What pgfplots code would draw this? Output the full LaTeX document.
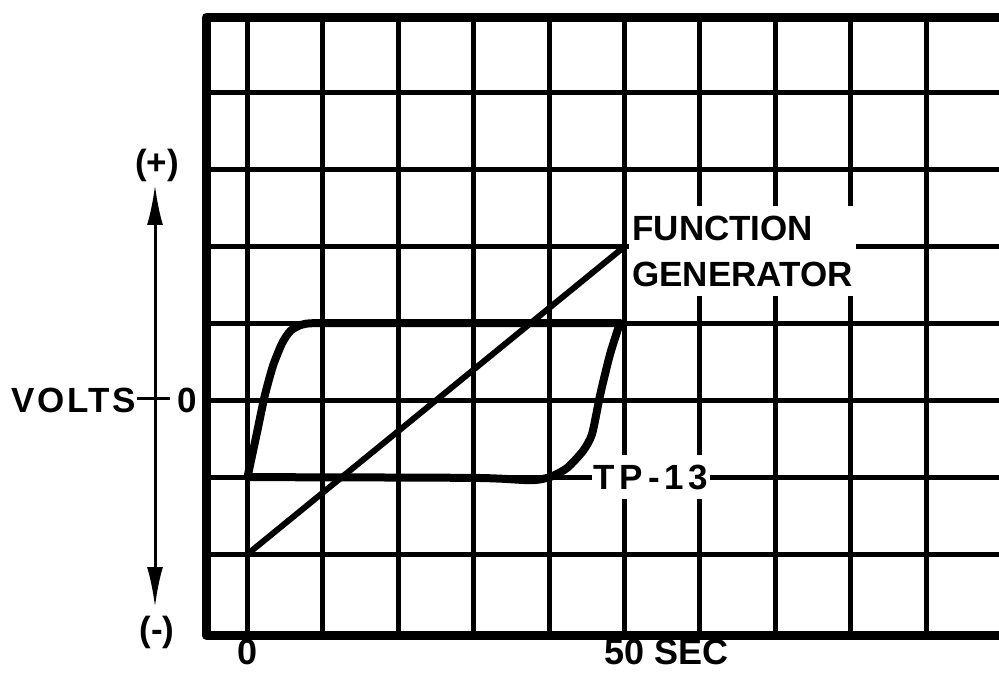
\documentclass[border=0pt]{standalone}
\usepackage{pgfplots}
\pgfplotsset{compat=1.18}
\usepackage{fontspec}
\setmainfont{Liberation Sans}
\newfontfamily\widea[LetterSpace=7]{Liberation Sans}
\newfontfamily\wideb[LetterSpace=14]{Liberation Sans}
\usetikzlibrary{arrows.meta}
\begin{document}
\begin{tikzpicture}[x=0.5pt,y=-0.5pt,font=\fontsize{17.5}{23}\selectfont\bfseries]
\useasboundingbox (0,0) rectangle (999,683);
\begin{axis}[
  at={(103pt,-317.5pt)}, anchor=south west,
  scale only axis, width=401.5pt, height=308.8pt,
  xmin=-5.5, xmax=101, ymin=-3.05, ymax=4.97,
  xtick={0,10,...,90}, ytick={-2,-1,...,4},
  xticklabels={0,,,,,{50\rlap{ SEC}},,,,},
  yticklabels={},
  major tick length=0pt,
  grid=major,
  major grid style={black, line width=2.5pt},
  axis line style={black, line width=4.5pt, line join=round},
  /pgf/number format/assume math mode=true,
  xticklabel style={font=\fontsize{18}{20}\selectfont\bfseries, inner sep=2pt},
  clip=false,
]
% function generator ramp
\addplot[black, line width=3pt, line cap=round] coordinates {(0,-2) (49.7,1.97)};
% TP-13 : rising edge and top
\addplot[black, line width=4pt, smooth, tension=0.4, line cap=round, line join=round] coordinates {
(0,-1) (1.2,-0.45) (2.3,0.06) (3.4,0.45) (4.6,0.74) (5.7,0.9) (7.2,0.98) (9.2,1.0) (20,1.0) (49.4,1.0)};
% TP-13 : falling edge and bottom
\addplot[black, line width=4pt, smooth, tension=0.4, line cap=round, line join=round] coordinates {
(49.4,1.0) (48.1,0.6) (46.8,0.08) (45.7,-0.44) (44.5,-0.66) (42.4,-0.88) (40.1,-1.0) (37.5,-1.04) (30,-1.01) (0,-1)};
\end{axis}
\node[fill=white, anchor=west, align=left, inner xsep=1.5pt, inner ysep=5pt] at (629,251) {FUNCTION\\GENERATOR};
\node[fill=white, inner xsep=1pt, inner ysep=5pt] at (651,477) {\wideb\bfseries TP-13};
\node[anchor=east, inner sep=0pt] at (136,400) {\widea\bfseries VOLTS};
\draw[line width=1.5pt] (137,398)--(170,398);
\draw[line width=1.5pt, {Latex[length=20pt,width=8pt]}-{Latex[length=20pt,width=8pt]}] (155,185)--(155,607);
\node at (187,400) {0};
\node at (157,165) {(+)};
\node at (157,632) {(-)};
\end{tikzpicture}
\end{document}
